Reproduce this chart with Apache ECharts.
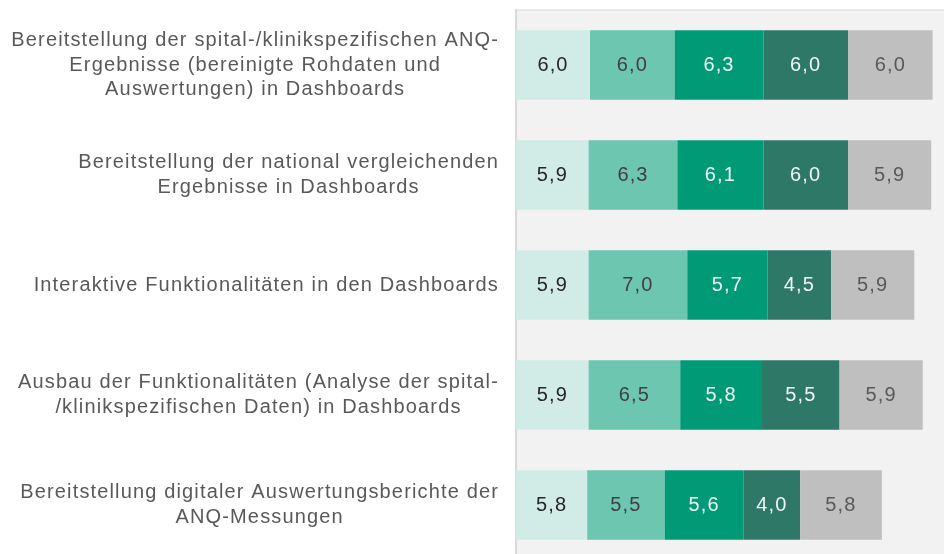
<!DOCTYPE html>
<html>
<head>
<meta charset="utf-8">
<style>
  html, body { margin: 0; padding: 0; background: #ffffff; }
  #chart { width: 944px; height: 554px; }
</style>
<script src="https://cdn.jsdelivr.net/npm/echarts@6/dist/echarts.min.js"></script>
</head>
<body>
<div id="chart"></div>
<script>
// Survey items (top to bottom), manual line breaks as set in the labels
const categories = [
  'Bereitstellung der spital-/klinikspezifischen ANQ-\nErgebnisse (bereinigte Rohdaten und\nAuswertungen) in Dashboards',
  'Bereitstellung der national vergleichenden\nErgebnisse in Dashboards',
  'Interaktive Funktionalitäten in den Dashboards',
  'Ausbau der Funktionalitäten (Analyse der spital-\n/klinikspezifischen Daten) in Dashboards',
  'Bereitstellung digitaler Auswertungsberichte der\nANQ-Messungen'
];

// Mean ratings per group, one array per stacked segment
const group1 = [6.0, 5.9, 5.9, 5.9, 5.8];
const group2 = [6.0, 6.3, 7.0, 6.5, 5.5];
const group3 = [6.3, 6.1, 5.7, 5.8, 5.6];
const group4 = [6.0, 6.0, 4.5, 5.5, 4.0];
const group5 = [6.0, 5.9, 5.9, 5.9, 5.8];

const groups = [group1, group2, group3, group4, group5];
const segmentColors = ['#d1ece6', '#6dc6b0', '#009a76', '#2e7868', '#bfbfbf'];
const labelColors = ['#262626', '#404040', '#eef7f4', '#eef7f4', '#595959'];

const FONT = '"Liberation Sans", Arial, sans-serif';

// Slightly tracked-out lettering for all chart text (measured and drawn alike)
const TRACKING = '1.15px';
const ctxProto = CanvasRenderingContext2D.prototype;
const baseFillText = ctxProto.fillText;
const baseMeasureText = ctxProto.measureText;
ctxProto.fillText = function () { this.letterSpacing = TRACKING; return baseFillText.apply(this, arguments); };
ctxProto.measureText = function () { this.letterSpacing = TRACKING; return baseMeasureText.apply(this, arguments); };

const chart = echarts.init(document.getElementById('chart'), null, { renderer: 'canvas' });

const series = groups.map((values, i) => ({
  type: 'bar',
  stack: 'total',
  barWidth: '63%',
  clip: true,
  data: values,
  itemStyle: { color: segmentColors[i] },
  label: {
    show: true,
    position: 'inside',
    color: labelColors[i],
    fontFamily: FONT,
    fontSize: 20,
    formatter: p => p.value.toFixed(1).replace('.', ',')
  },
  emphasis: { disabled: true }
}));

chart.setOption({
  animation: false,
  backgroundColor: '#ffffff',
  grid: {
    left: 516,
    top: 10,
    width: 430,
    height: 550,
    outerBoundsMode: 'none',
    show: true,
    backgroundColor: '#f2f2f2',
    borderColor: '#d9d9d9',
    borderWidth: 1
  },
  xAxis: {
    type: 'value',
    min: 0.75,
    max: 31.25,
    axisLine: { show: false },
    axisTick: { show: false },
    axisLabel: { show: false },
    splitLine: { show: false }
  },
  yAxis: {
    type: 'category',
    inverse: true,
    data: categories,
    axisLine: { show: true, onZero: false, lineStyle: { color: '#d9d9d9', width: 2 } },
    axisTick: { show: false },
    axisLabel: {
      margin: 17,
      color: '#595959',
      fontFamily: FONT,
      fontSize: 20,
      lineHeight: 24.5,
      formatter: v => v.split('\n').map(l => '{c|' + l + '}').join('\n'),
      rich: {
        c: { align: 'center', color: '#595959', fontFamily: FONT, fontSize: 20, lineHeight: 24.5 }
      }
    }
  },
  series: series
});
</script>
</body>
</html>
